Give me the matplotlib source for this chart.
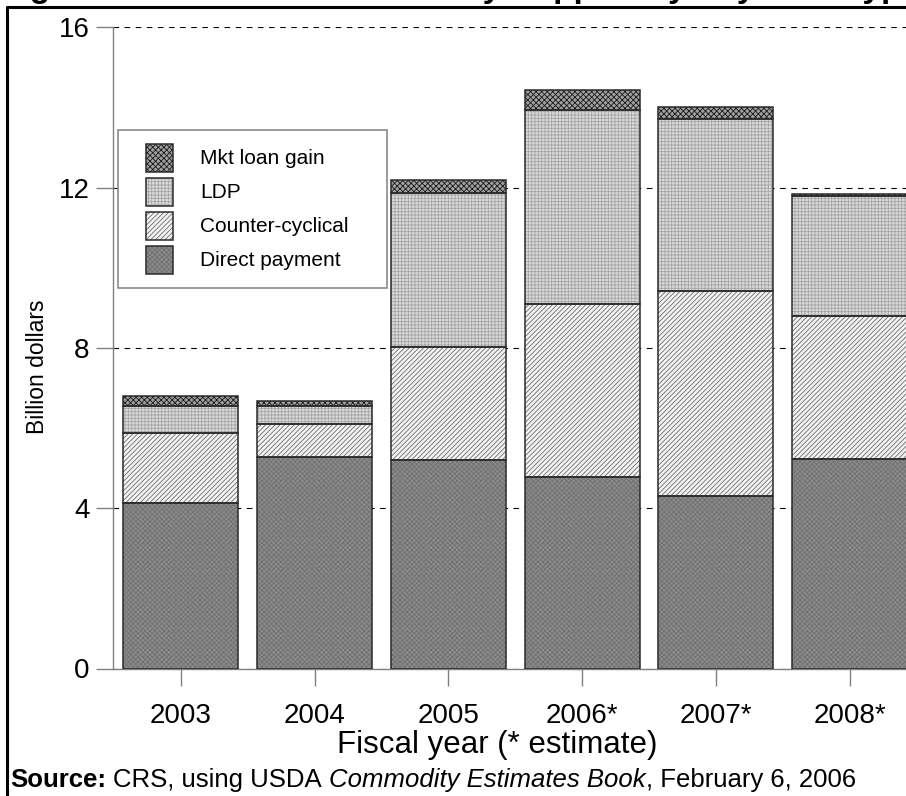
import matplotlib
matplotlib.use("Agg")
import matplotlib.pyplot as plt
from matplotlib.patches import Rectangle
from matplotlib.lines import Line2D
import numpy as np

plt.rcParams['font.family'] = ['Liberation Sans', 'DejaVu Sans']
plt.rcParams['hatch.linewidth'] = 0.6

years = ["2003", "2004", "2005", "2006*", "2007*", "2008*"]
direct = [4.13, 5.28, 5.20, 4.77, 4.30, 5.23]
counter = [1.74, 0.81, 2.81, 4.32, 5.12, 3.57]
ldp = [0.69, 0.45, 3.86, 4.84, 4.28, 2.98]
mkt = [0.24, 0.14, 0.32, 0.50, 0.30, 0.07]
yticks = [0, 4, 8, 12, 16]

W, H = 906, 796
fig = plt.figure(figsize=(W / 100, H / 100), dpi=100)
ax = fig.add_axes([113 / W, (796 - 668.5) / H, 793 / W, 641.2 / H])

styles = {
    "Direct payment": dict(facecolor="#8a8a8a", hatch="xxxxxxx", hcolor="#727272"),
    "Counter-cyclical": dict(facecolor="#f4f4f4", hatch="///////", hcolor="#6a6a6a"),
    "LDP": dict(facecolor="#dadada", hatch="+++++", hcolor="#a4a4a4"),
    "Mkt loan gain": dict(facecolor="#a0a0a0", hatch="xxxxxx", hcolor="#1a1a1a"),
}

x = np.arange(len(years))
width = 0.86
bottom = np.zeros(len(years))
series = [("Direct payment", direct), ("Counter-cyclical", counter),
          ("LDP", ldp), ("Mkt loan gain", mkt)]
for name, vals in series:
    st = styles[name]
    ax.bar(x, vals, width, bottom=bottom, color=st["facecolor"],
           edgecolor=st["hcolor"], hatch=st["hatch"], linewidth=0, zorder=2)
    ax.bar(x, vals, width, bottom=bottom, fill=False,
           edgecolor="#2a2a2a", linewidth=1.1, zorder=3)
    bottom = bottom + np.array(vals)

ax.set_xlim((113 - 180.7) / 133.8, (906 - 180.7) / 133.8)
ax.set_ylim(0, 16)
ax.set_yticks(yticks)
ax.set_yticklabels([str(v) for v in yticks])
ax.set_xticks(x)
ax.set_xticklabels(years)
ax.set_axisbelow(True)
ax.yaxis.grid(True, color="black", linewidth=0.8, linestyle=(0, (5, 5)))
for s in ["top", "right"]:
    ax.spines[s].set_visible(False)
for s in ["left", "bottom"]:
    ax.spines[s].set_color("#808080")
    ax.spines[s].set_linewidth(1.0)
ax.tick_params(axis="both", direction="out", length=12, width=1.0,
               color="#808080", labelsize=20)
ax.tick_params(axis="x", pad=13)
ax.tick_params(axis="y", pad=5)

# legend (drawn by hand in figure pixels)
order = ["Mkt loan gain", "LDP", "Counter-cyclical", "Direct payment"]
fig.add_artist(Rectangle((118 / W, 1 - 288 / H), (387 - 118) / W, (288 - 130) / H,
                         transform=fig.transFigure, facecolor="white",
                         edgecolor="#808080", linewidth=1.1, zorder=5))
for i, n in enumerate(order):
    st = styles[n]
    cy = 158 + 34 * i
    fig.add_artist(Rectangle((146 / W, 1 - (cy + 14) / H), 27 / W, 28 / H,
                             transform=fig.transFigure, facecolor=st["facecolor"],
                             edgecolor=st["hcolor"], hatch=st["hatch"],
                             linewidth=0, zorder=6))
    fig.add_artist(Rectangle((146 / W, 1 - (cy + 14) / H), 27 / W, 28 / H,
                             transform=fig.transFigure, fill=False,
                             edgecolor="#2a2a2a", linewidth=1.1, zorder=7))
    fig.text(200 / W, 1 - (cy + 1) / H, n, fontsize=15, ha="left", va="center",
             zorder=7)

# labels
fig.text(37 / W, 1 - 367 / H, "Billion dollars", rotation=90, ha="center",
         va="center", fontsize=16.5)
fig.text(497 / W, 1 - 745 / H, "Fiscal year (* estimate)", ha="center",
         va="center", fontsize=22.5)

renderer = fig.canvas.get_renderer()

# title (mostly cut off at top); place so that "Support" sits where it does
title = "Figure 3. Estimated Commodity Support by Payment Type"
tfs = 24
prefix = "Figure 3. Estimated Commodity Su"
probe = fig.text(0, 0, prefix, fontsize=tfs, fontweight="bold")
wpre = probe.get_window_extent(renderer).width
probe.remove()
tx = 553 - wpre
fig.text(tx / W, 1 + 3.5 / H, title, ha="left", va="baseline",
         fontsize=tfs, fontweight="bold")

# source line
sfs = 18.5
xpos = 10
ybase = 1 - 787 / H
pieces = [("Source:", "bold", "normal"), (" CRS, using USDA", "normal", "normal"),
          (" Commodity Estimates Book", "normal", "italic"),
          (", February 6, 2006", "normal", "normal")]
a = fig.text(0, 0, "x x", fontsize=sfs)
b = fig.text(0, 0, "xx", fontsize=sfs)
space_w = a.get_window_extent(renderer).width - b.get_window_extent(renderer).width
a.remove(); b.remove()
for txt, wt, stl in pieces:
    if txt.startswith(" "):
        xpos += space_w
    t = txt.lstrip(" ")
    tt = fig.text(xpos / W, ybase, t, fontsize=sfs, fontweight=wt, fontstyle=stl,
                  ha="left", va="baseline")
    xpos += tt.get_window_extent(renderer).width

# border
fig.add_artist(Line2D([7 / W, 7 / W, 1.05], [-0.05, 1 - 7 / H, 1 - 7 / H],
                      transform=fig.transFigure, color="black", linewidth=2.2,
                      solid_capstyle="projecting"))

fig.savefig("out.png", dpi=100)
